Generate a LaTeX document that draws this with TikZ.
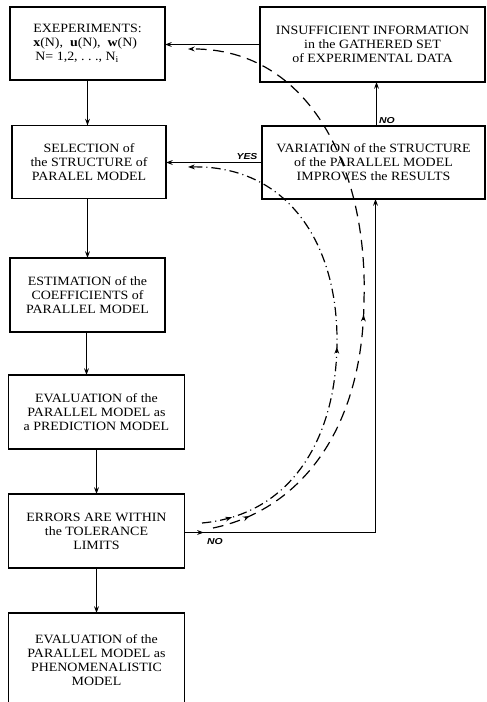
\documentclass[tikz,border=0pt]{standalone}
\usepackage{fontspec}
\setmainfont{Liberation Serif}[FakeStretch=1.1]
\newfontfamily\lblfont{Liberation Sans}[FakeStretch=1.2]
\usetikzlibrary{arrows.meta,decorations.markings}
\begin{document}
\begin{tikzpicture}[x=0.75pt,y=-0.75pt,
  box/.style={draw,line width=1pt,inner sep=0pt,outer sep=0pt,align=center,
    font=\fontsize{9.5pt}{10.5pt}\selectfont},
  flow/.style={line width=1.2pt,-{Stealth[length=5pt,width=3.6pt]}},
  lbl/.style={font=\lblfont\bfseries\itshape\fontsize{6.5pt}{7pt}\selectfont,inner sep=0pt},
  tip/.style={-{Stealth[length=5pt,width=3.6pt]}},
  dashcurve/.style={line width=0.9pt,dash pattern=on 8pt off 5pt},
  dotcurve/.style={line width=0.9pt,dash pattern=on 7pt off 3pt on 0.8pt off 3pt},
  midtip/.style={postaction={decorate,decoration={markings,
    mark=at position #1 with {\arrow{Stealth[length=5pt,width=3.6pt]}}}}}
]
\useasboundingbox (0,0) rectangle (486,702);
\fill[white] (0,0) rectangle (486,702);

\node[box,minimum width=116.25pt,minimum height=54.75pt,align=left] (b1) at (87.5,43.5)
  {EXEPERIMENTS:\\ \textbf{x}(N),\ \ \textbf{u}(N),\ \ \textbf{w}(N)\\ \,N= 1,2, .\ .\ ., N\textsubscript{i}};
\node[box,minimum width=115.5pt,minimum height=54.75pt] (b2) at (89,162)
  {SELECTION of\\ the STRUCTURE of\\ PARALEL MODEL};
\node[box,minimum width=116.25pt,minimum height=55.5pt] (b3) at (87.5,295)
  {ESTIMATION of the\\ COEFFICIENTS of\\ PARALLEL MODEL};
\node[box,minimum width=132pt,minimum height=55.5pt] (b4) at (96.5,412)
  {EVALUATION of the\\ PARALLEL MODEL as\\ a PREDICTION MODEL};
\node[box,minimum width=132pt,minimum height=55.5pt] (b5) at (96.5,531)
  {ERRORS ARE WITHIN\\ the TOLERANCE\\ LIMITS};
\node[box,minimum width=132pt,minimum height=70.5pt] (b6) at (96.5,660)
  {EVALUATION of the\\ PARALLEL MODEL as\\ PHENOMENALISTIC\\ MODEL};
\node[box,minimum width=168.75pt,minimum height=56.25pt] (b7) at (372.5,44.5)
  {INSUFFICIENT INFORMATION\\ in the GATHERED SET\\ of EXPERIMENTAL DATA};
\node[box,minimum width=167.25pt,minimum height=54.75pt] (b8) at (373.5,162.5)
  {VARIATION of the STRUCTURE\\ of the PARALLEL MODEL\\ IMPROVES the RESULTS};

% main flow
\draw[flow] (b1.south) -- (b1.south |- b2.north);
\draw[flow] (b2.south -| b1.south) -- (b1.south |- b3.north);
\coordinate (x34) at (86.5,0);
\draw[flow] (b3.south -| x34) -- (b4.north -| x34);
\draw[flow] (b4.south) -- (b5.north);
\draw[flow] (b5.south) -- (b6.north);

% feedback
\draw[flow] (b7.west) -- (b7.west -| b1.east);
\draw[flow] (b8.west) -- (b8.west -| b2.east);
\coordinate (up) at (376.5,0);
\draw[flow] (b8.north -| up) -- (b7.south -| up);
\coordinate (corner) at (375.5,532.5);
\draw[flow,midtip=14.5pt] (b5.east |- corner) -- (corner) -- (corner |- b8.south);

\node[lbl] (yes) at (247,157) {YES};
\node[lbl] (no1) at (387,121) {NO};
\node[lbl] (no2) at (215,542) {NO};

% curved paths
\coordinate (d1s) at (202,523);
\coordinate (d1m) at (337,340);
\coordinate (d1e) at (188,167);
\draw[dotcurve,tip,midtip=0.06,midtip=0.48] (d1s) .. controls (290,515) and (337,440) .. (d1m)
  .. controls (337,240) and (285,165) .. (d1e);

\coordinate (d2s) at (213,528);
\coordinate (d2m) at (364,300);
\coordinate (d2e) at (188,49);
\draw[dashcurve,tip,midtip=0.06,midtip=0.44] (d2s) .. controls (300,510) and (363,430) .. (d2m)
  .. controls (368,170) and (310,48) .. (d2e);
\end{tikzpicture}
\end{document}
